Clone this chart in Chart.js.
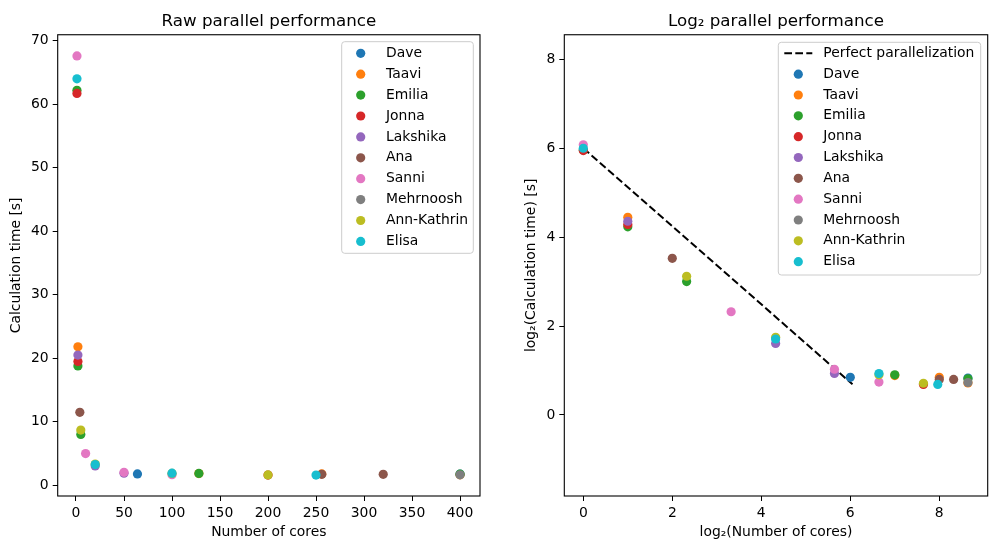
<!DOCTYPE html>
<html>
<head>
<meta charset="utf-8">
<script src="https://cdn.jsdelivr.net/npm/chart.js@4.4.1/dist/chart.umd.min.js"></script>
<style>
    html, body { margin: 0; padding: 0; background: #fff; }
    #wrap { position: relative; width: 996px; height: 553px; }
    .panel { position: absolute; top: 0; width: 498px; height: 553px; }
    #left { left: 0; }
    #right { left: 498px; }
</style>
</head>
<body>
<div id="wrap">
    <div class="panel" id="left"><canvas id="rawChart"></canvas></div>
    <div class="panel" id="right"><canvas id="logChart"></canvas></div>
</div>
<script>
// --- Data ---
const people = ['Dave', 'Taavi', 'Emilia', 'Jonna', 'Lakshika', 'Ana', 'Sanni', 'Mehrnoosh', 'Ann-Kathrin', 'Elisa'];
const colors = ['#1f77b4', '#ff7f0e', '#2ca02c', '#d62728', '#9467bd', '#8c564b', '#e377c2', '#7f7f7f', '#bcbd22', '#17becf'];

// cores used by each person, and the measured calculation time [s]
const cores = [
    [64, 400],
    [2, 128, 256, 400],
    [1, 2, 5, 128, 400],
    [1, 2, 200],
    [2, 20, 50],
    [4, 256, 320],
    [1, 10, 50, 100],
    [400],
    [5, 20, 100, 200],
    [1, 20, 100, 250]
];
const times = [
    [1.80, 1.78],
    [21.8, 1.85, 1.80, 1.65],
    [62.2, 18.8, 8.0, 1.87, 1.76],
    [61.7, 19.5, 1.61],
    [20.5, 3.05, 1.91],
    [11.5, 1.74, 1.74],
    [67.6, 5.0, 2.04, 1.67],
    [1.66],
    [8.7, 3.36, 1.87, 1.64],
    [64.0, 3.27, 1.91, 1.61]
];

const perfectX = [0, 6.05];
const perfectY = [6.0, 0.69];

const rawXTicks = [0, 50, 100, 150, 200, 250, 300, 350, 400];
const rawYTicks = [0, 10, 20, 30, 40, 50, 60, 70];
const logXTicks = [0, 2, 4, 6, 8];
const logYTicks = [0, 2, 4, 6, 8];

// --- Shared styling ---
const FONT = 'DejaVu Sans';
const tickFont = { family: FONT, size: 13.9 };
const labelFont = { family: FONT, size: 13.9 };
const titleFont = { family: FONT, size: 16.7, weight: 'normal' };

const scatterSets = (toX, toY) => people.map((name, i) => ({
    label: name,
    data: cores[i].map((c, j) => ({ x: toX(c), y: toY(times[i][j]) })),
    backgroundColor: colors[i],
    borderWidth: 0,
    pointRadius: 4.6,
    pointHoverRadius: 4.6,
    order: 10 - i
}));

const fixedTicks = (list) => (scale) => {
    scale.ticks = list.map(v => ({ value: v }));
};

const axis = (min, max, tickList, title, titlePad, size, isX) => ({
    type: 'linear',
    min: min,
    max: max,
    afterBuildTicks: fixedTicks(tickList),
    afterFit: (s) => { if (isX) s.height = size; else s.width = size; },
    ticks: { color: '#000', font: tickFont, padding: 4, maxRotation: 0, autoSkip: false },
    grid: { drawOnChartArea: false, drawTicks: true, tickLength: 5, color: '#000', tickWidth: 1 },
    border: { display: false },
    title: { display: true, text: title, color: '#000', font: labelFont, padding: titlePad }
});

// frame + matplotlib-like legend inside the axes
const framePlugin = {
    id: 'frame',
    afterDraw(chart, args, opts) {
        const { ctx, chartArea: a } = chart;
        ctx.save();
        ctx.strokeStyle = '#000';
        ctx.lineWidth = 1.1;
        ctx.strokeRect(a.left, a.top, a.right - a.left, a.bottom - a.top);

        const lg = opts.legend;
        if (lg) {
            const w = lg.x2 - lg.x1, h = lg.y2 - lg.y1, r = 3;
            ctx.beginPath();
            ctx.roundRect(lg.x1, lg.y1, w, h, r);
            ctx.fillStyle = 'rgba(255,255,255,0.8)';
            ctx.fill();
            ctx.strokeStyle = '#cccccc';
            ctx.lineWidth = 1;
            ctx.stroke();

            ctx.font = '13.9px "' + FONT + '"';
            ctx.textBaseline = 'middle';
            ctx.fillStyle = '#000';
            let row = 0;
            if (lg.line) {
                ctx.save();
                ctx.strokeStyle = '#000';
                ctx.lineWidth = 2;
                ctx.setLineDash([7.7, 3.3]);
                ctx.beginPath();
                ctx.moveTo(lg.markX - 14, lg.rowY);
                ctx.lineTo(lg.markX + 14, lg.rowY);
                ctx.stroke();
                ctx.restore();
                ctx.fillText(lg.line, lg.textX, lg.rowY);
                row = 1;
            }
            people.forEach((name, i) => {
                const y = lg.rowY + (row + i) * lg.step;
                ctx.beginPath();
                ctx.arc(lg.markX, y, 4.6, 0, Math.PI * 2);
                ctx.fillStyle = colors[i];
                ctx.fill();
                ctx.fillStyle = '#000';
                ctx.fillText(name, lg.textX, y);
            });
        }
        ctx.restore();
    }
};

const baseOptions = (title, scales, legend, padRight) => ({
    responsive: true,
    maintainAspectRatio: false,
    animation: false,
    layout: { padding: { top: 0, right: padRight, bottom: 0, left: 0 } },
    plugins: {
        legend: { display: false },
        tooltip: { enabled: false },
        title: {
            display: true, text: title, color: '#000', font: titleFont,
            fullSize: false, padding: { top: 12, bottom: 2.7 }
        },
        frame: { legend: legend }
    },
    scales: scales
});

// --- Raw chart ---
new Chart(document.getElementById('rawChart'), {
    type: 'scatter',
    data: { datasets: scatterSets(c => c, t => t) },
    options: baseOptions('Raw parallel performance', {
        x: axis(-19.06, 420.8, rawXTicks, 'Number of cores', { top: 0, bottom: 12.7 }, 57, true),
        y: axis(-1.68, 70.94, rawYTicks, 'Calculation time [s]', { top: 7.7, bottom: 0 }, 57.7, false)
    }, { x1: 341.7, x2: 473.3, y1: 41.7, y2: 253.3, rowY: 53.3, step: 20.9, markX: 360.7, textX: 386 }, 18),
    plugins: [framePlugin]
});

// --- Log2 chart ---
const logSets = scatterSets(c => Math.log2(c), t => Math.log2(t));
logSets.unshift({
    label: 'Perfect parallelization',
    data: perfectX.map((x, i) => ({ x: x, y: perfectY[i] })),
    showLine: true,
    borderColor: '#000',
    borderWidth: 2,
    borderDash: [7.7, 3.3],
    pointRadius: 0,
    order: 20
});

new Chart(document.getElementById('logChart'), {
    type: 'scatter',
    data: { datasets: logSets },
    options: baseOptions('Log\u2082 parallel performance', {
        x: axis(-0.427, 9.088, logXTicks, 'log\u2082(Number of cores)', { top: 0, bottom: 12.7 }, 57, true),
        y: axis(-1.822, 8.553, logYTicks, 'log\u2082(Calculation time) [s]', { top: 24.7, bottom: 0 }, 66.3, false)
    }, { x1: 280.3, x2: 482.7, y1: 42.3, y2: 275, rowY: 53.3, step: 20.84, markX: 300.3, textX: 325.3, line: 'Perfect parallelization' }, 8.3),
    plugins: [framePlugin]
});
</script>
</body>
</html>
